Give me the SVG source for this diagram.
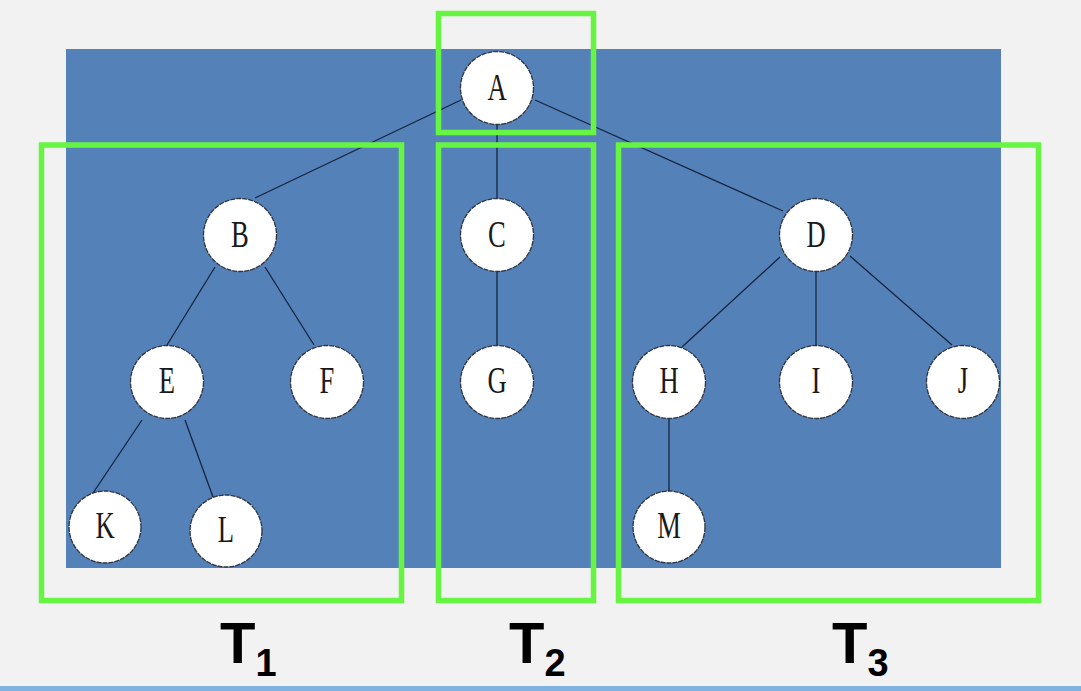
<svg xmlns="http://www.w3.org/2000/svg" width="1081" height="691" viewBox="0 0 1081 691">
<style>
.node circle{fill:#ffffff;stroke:#2f3440;stroke-width:1.3;stroke-dasharray:5 1}
.node text{font-family:"Liberation Serif","Times New Roman",serif;font-size:37px;fill:#1a1a1a;text-anchor:middle}
.edges line{stroke:#15253d;stroke-width:1.3}
.frame{fill:none;stroke:#66f542;stroke-width:5.5}
.tl{font-family:"Liberation Sans",Arial,sans-serif;font-weight:bold;fill:#000}
</style>
<rect x="0" y="0" width="1081" height="691" fill="#f2f2f2"/>
<rect x="66" y="49" width="935" height="519" fill="#5581b9"/>
<rect x="0" y="686" width="1081" height="5" fill="#7fb2e0"/>
<g class="edges">
<line x1="461" y1="100" x2="255" y2="198"/>
<line x1="497" y1="120" x2="497" y2="205"/>
<line x1="535" y1="100" x2="783" y2="211"/>
<line x1="215" y1="267" x2="167" y2="345"/>
<line x1="265" y1="267" x2="314" y2="345"/>
<line x1="497" y1="265" x2="497" y2="350"/>
<line x1="780" y1="257" x2="682" y2="347"/>
<line x1="816" y1="265" x2="816" y2="350"/>
<line x1="850" y1="256" x2="952" y2="345"/>
<line x1="142" y1="420" x2="93" y2="493"/>
<line x1="185" y1="420" x2="213" y2="497"/>
<line x1="669" y1="410" x2="669" y2="495"/>
</g>
<g id="node-A" class="node"><circle cx="497" cy="88" r="36.5"/><text transform="translate(497,100) scale(0.72,1)">A</text></g>
<g id="node-B" class="node"><circle cx="240" cy="235" r="36.5"/><text transform="translate(240,247) scale(0.72,1)">B</text></g>
<g id="node-C" class="node"><circle cx="497" cy="235" r="36.5"/><text transform="translate(497,247) scale(0.72,1)">C</text></g>
<g id="node-D" class="node"><circle cx="816" cy="235" r="36.5"/><text transform="translate(816,247) scale(0.72,1)">D</text></g>
<g id="node-E" class="node"><circle cx="167" cy="382" r="36.5"/><text transform="translate(167,393) scale(0.72,1)">E</text></g>
<g id="node-F" class="node"><circle cx="327" cy="382" r="36.5"/><text transform="translate(327,393) scale(0.72,1)">F</text></g>
<g id="node-G" class="node"><circle cx="497" cy="382" r="36.5"/><text transform="translate(497,393) scale(0.72,1)">G</text></g>
<g id="node-H" class="node"><circle cx="669" cy="382" r="36.5"/><text transform="translate(669,393) scale(0.72,1)">H</text></g>
<g id="node-I" class="node"><circle cx="816" cy="382" r="36.5"/><text transform="translate(816,393) scale(0.72,1)">I</text></g>
<g id="node-J" class="node"><circle cx="963" cy="382" r="36.5"/><text transform="translate(963,393) scale(0.72,1)">J</text></g>
<g id="node-K" class="node"><circle cx="105" cy="527" r="36"/><text transform="translate(105,538) scale(0.72,1)">K</text></g>
<g id="node-L" class="node"><circle cx="226" cy="531" r="36"/><text transform="translate(226,542) scale(0.72,1)">L</text></g>
<g id="node-M" class="node"><circle cx="669" cy="527" r="36"/><text transform="translate(669,538) scale(0.72,1)">M</text></g>
<g id="frames">
<rect class="frame" x="438.5" y="13.5" width="155" height="119"/>
<rect class="frame" x="41.5" y="145" width="360" height="455.5"/>
<rect class="frame" x="438.5" y="145" width="155" height="455.5"/>
<rect class="frame" x="618.5" y="145" width="420" height="455.5"/>
</g>
<g id="labels">
<text class="tl" x="220" y="663" font-size="58">T<tspan font-size="38" dy="13">1</tspan></text>
<text class="tl" x="509" y="663" font-size="58">T<tspan font-size="38" dy="13">2</tspan></text>
<text class="tl" x="832" y="663" font-size="58">T<tspan font-size="38" dy="13">3</tspan></text>
</g>
</svg>
